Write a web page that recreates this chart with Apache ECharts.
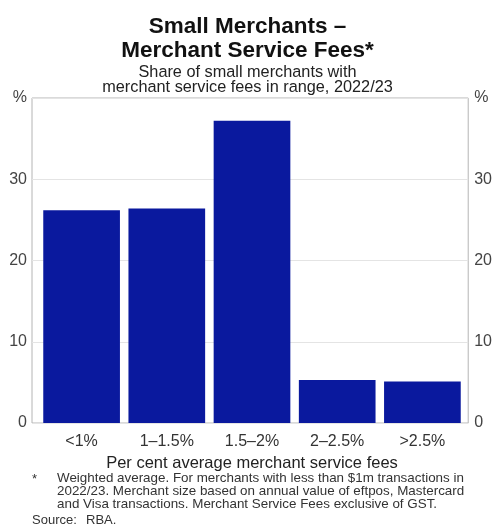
<!DOCTYPE html>
<html>
<head>
<meta charset="utf-8">
<script src="https://cdn.jsdelivr.net/npm/echarts@6/dist/echarts.min.js"></script>
<style>
  html, body { margin: 0; padding: 0; background: #fff; }
  #chart { width: 495px; height: 529px; }
</style>
</head>
<body>
<div id="chart"></div>
<script>
// Fee ranges and share of small merchants in each (per cent)
const categories = ['<1%', '1\u20131.5%', '1.5\u20132%', '2\u20132.5%', '>2.5%'];
const shares = [26.2, 26.4, 37.2, 5.3, 5.1];
const yTicks = [0, 10, 20, 30, 40];
const yTopLabel = '%';

const FONT = '"Liberation Sans", Arial, Helvetica, sans-serif';
const BAR_BLUE = '#0a199e';

const footnoteLines = [
  'Weighted average. For merchants with less than $1m transactions in',
  '2022/23. Merchant size based on annual value of eftpos, Mastercard',
  'and Visa transactions. Merchant Service Fees exclusive of GST.'
];

const chart = echarts.init(document.getElementById('chart'), null, { renderer: 'canvas' });

const yLabel = {
  fontFamily: FONT,
  fontSize: 16,
  color: '#444',
  margin: 5,
  formatter: v => (v === yTicks[yTicks.length - 1] ? yTopLabel : String(v))
};

const option = {
  backgroundColor: '#fff',
  animation: false,
  title: {
    text: 'Small Merchants \u2013\nMerchant Service Fees*',
    subtext: 'Share of small merchants with\nmerchant service fees in range, 2022/23',
    left: 'center',
    top: 10,
    itemGap: 2,
    textStyle: { fontFamily: FONT, fontSize: 22.5, fontWeight: 'bold', color: '#111', lineHeight: 24 },
    subtextStyle: { fontFamily: FONT, fontSize: 16.3, color: '#222', lineHeight: 15 }
  },
  grid: [
    // framed panel with the percentage scale on both sides
    { left: 32, right: 24, top: 98, bottom: 106, show: true, borderColor: '#b4b4b4', borderWidth: 1, backgroundColor: 'transparent' },
    // inner band holding the bars
    { left: 39, right: 30, top: 98, bottom: 106 }
  ],
  xAxis: [
    { gridIndex: 0, type: 'value', min: 0, max: 1, show: false },
    {
      gridIndex: 1,
      type: 'category',
      data: categories,
      axisLine: { show: false },
      axisTick: { show: false },
      axisLabel: { fontFamily: FONT, fontSize: 16, color: '#333', margin: 11 },
      name: 'Per cent average merchant service fees',
      nameLocation: 'middle',
      nameGap: 29,
      nameTextStyle: { fontFamily: FONT, fontSize: 16.5, color: '#222' }
    }
  ],
  yAxis: [
    {
      gridIndex: 0, type: 'value', position: 'left', min: yTicks[0], max: yTicks[yTicks.length - 1], interval: 10,
      axisLine: { show: false }, axisTick: { show: false },
      axisLabel: yLabel,
      splitLine: { show: true, lineStyle: { color: '#e4e4e4', width: 1 } }
    },
    {
      gridIndex: 0, type: 'value', position: 'right', min: yTicks[0], max: yTicks[yTicks.length - 1], interval: 10,
      axisLine: { show: false }, axisTick: { show: false },
      axisLabel: Object.assign({}, yLabel, { margin: 6 }),
      splitLine: { show: false }
    },
    { gridIndex: 1, type: 'value', min: yTicks[0], max: yTicks[yTicks.length - 1], show: false }
  ],
  series: [
    {
      type: 'bar',
      xAxisIndex: 1,
      yAxisIndex: 2,
      data: shares,
      barCategoryGap: '10%',
      itemStyle: { color: BAR_BLUE },
      emphasis: { disabled: true }
    }
  ],
  graphic: [
    { type: 'text', left: 32, top: 473, style: { text: '*', font: '13px ' + FONT, fill: '#333' } },
    {
      type: 'text', left: 57, top: 472,
      style: { text: footnoteLines.join('\n'), font: '13.4px ' + FONT, fill: '#333', lineHeight: 13 }
    },
    { type: 'text', left: 32, top: 514, style: { text: 'Source:', font: '13px ' + FONT, fill: '#333' } },
    { type: 'text', left: 86, top: 514, style: { text: 'RBA.', font: '13px ' + FONT, fill: '#333' } }
  ]
};

chart.setOption(option);
</script>
</body>
</html>
